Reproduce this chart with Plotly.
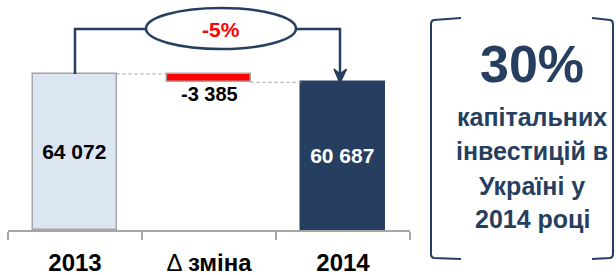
import plotly.graph_objects as go

# ---- data ----
categories = ["2013", "Δ зміна", "2014"]
tick_labels = ["<b>2013</b>", "Δ <b>зміна</b>", "<b>2014</b>"]
value_2013 = 64072
value_2014 = 60687
delta = value_2014 - value_2013
pct_change = round(delta / value_2013 * 100)
side_big = "30%"
side_lines = ["капітальних", "інвестицій в", "Україні у", "2014 році"]

def fmt(v):
    return f"{v:,}".replace(",", " ")

W, H = 616, 275
AX_Y = 230          # pixel y of x-axis line
X0, X1 = 8, 410     # pixel extent of category axis
YMAX = value_2013 * AX_Y / 156.0

def px(x):
    return x / W

def py(y):
    return (AX_Y - y) / AX_Y

def ydata(y):
    return (AX_Y - y) / AX_Y * YMAX

NAVY = "#263F60"
FONT = "Liberation Sans, Arial, sans-serif"
BW = 0.62

bar_y = [value_2013, -delta, value_2014]
bar_base = [0, value_2014, 0]

fig = go.Figure()
fig.add_trace(go.Bar(
    x=categories, y=bar_y, base=bar_base, width=BW,
    marker=dict(color=["#DCE6F2", "#FF0000", NAVY],
                line=dict(color=["#A6A6A6", "#A6A6A6", NAVY], width=1.5)),
    text=[f"<b>{fmt(value_2013)}</b>", "", f"<b>{fmt(value_2014)}</b>"],
    textposition="inside", insidetextanchor="middle", textangle=0,
    textfont=dict(family=FONT, size=21, color=["#000000", "#000000", "#FFFFFF"]),
    constraintext="none", hoverinfo="skip", showlegend=False,
))

shapes = []
# dotted connectors
shapes.append(dict(type="line", xref="x", yref="y", x0=0 + BW / 2, x1=1 - BW / 2,
                   y0=value_2013, y1=value_2013,
                   line=dict(color="#A0A0A0", width=1, dash="dot")))
shapes.append(dict(type="line", xref="x", yref="y", x0=1 + BW / 2, x1=2 - BW / 2,
                   y0=value_2014, y1=value_2014,
                   line=dict(color="#A0A0A0", width=1, dash="dot")))
# bridge arrow
lvl = ydata(29)
ell_l, ell_r = 146, 296
cat_w = (X1 - X0) / 3.0
def xd(pxx):
    return (pxx - X0) / cat_w - 0.5
shapes.append(dict(type="path", xref="x", yref="y",
                   path=f"M 0,{value_2013} L 0,{lvl} L {xd(ell_l)},{lvl}",
                   line=dict(color=NAVY, width=2.5)))
shapes.append(dict(type="path", xref="x", yref="y",
                   path=f"M {xd(ell_r)},{lvl} L {xd(340)},{lvl} L {xd(340)},{ydata(76)}",
                   line=dict(color=NAVY, width=2.5)))
# arrow head
shapes.append(dict(type="path", xref="paper", yref="paper",
                   path=(f"M {px(334)},{py(69)} L {px(340)},{py(83)} L {px(346.5)},{py(69)} "
                         f"L {px(340)},{py(74)} Z"),
                   fillcolor=NAVY, line=dict(color=NAVY, width=1.5)))
# ellipse
shapes.append(dict(type="circle", xref="paper", yref="paper",
                   x0=px(ell_l), x1=px(ell_r), y0=py(49), y1=py(8),
                   fillcolor="white", line=dict(color=NAVY, width=2.5)))
# brackets
shapes.append(dict(type="path", xref="paper", yref="paper",
                   path=(f"M {px(461)},{py(18)} L {px(434)},{py(20)} Q {px(431)},{py(20.5)} {px(431)},{py(24)} "
                         f"L {px(431)},{py(254)} Q {px(431)},{py(257.5)} {px(434)},{py(258)} L {px(461)},{py(259)}"),
                   line=dict(color=NAVY, width=2)))
shapes.append(dict(type="path", xref="paper", yref="paper",
                   path=(f"M {px(592)},{py(18)} L {px(610)},{py(20)} Q {px(613)},{py(20.5)} {px(613)},{py(24)} "
                         f"L {px(613)},{py(254)} Q {px(613)},{py(257.5)} {px(610)},{py(258)} L {px(592)},{py(259)}"),
                   line=dict(color=NAVY, width=2)))

annotations = []
annotations.append(dict(xref="x", yref="y", x=1, y=value_2014, yshift=1,
                        text=f"<b>{fmt(delta)}</b>", showarrow=False,
                        xanchor="center", yanchor="top",
                        font=dict(family=FONT, size=20, color="#000000")))
annotations.append(dict(xref="paper", yref="paper", x=px(220.5), y=py(29),
                        text=f"<b>{pct_change}%</b>", showarrow=False,
                        xanchor="center", yanchor="middle",
                        font=dict(family=FONT, size=21, color="#FF0000")))
annotations.append(dict(xref="paper", yref="paper", x=px(532), y=py(64),
                        text=f"<b>{side_big}</b>", showarrow=False,
                        xanchor="center", yanchor="middle",
                        font=dict(family=FONT, size=52, color=NAVY)))
line_y = [117, 151, 186, 219]
for t, yy in zip(side_lines, line_y):
    annotations.append(dict(xref="paper", yref="paper", x=px(532), y=py(yy),
                            text=f"<b>{t}</b>", showarrow=False,
                            xanchor="center", yanchor="middle",
                            font=dict(family=FONT, size=25, color=NAVY)))

fig.update_layout(
    width=W, height=H,
    margin=dict(l=0, r=0, t=0, b=H - AX_Y),
    paper_bgcolor="white", plot_bgcolor="white",
    font=dict(family=FONT),
    xaxis=dict(domain=[px(X0), px(X1)], type="category", range=[-0.5, 2.5],
               tickmode="array", tickvals=categories, ticktext=tick_labels,
               tickson="boundaries", ticks="outside", ticklen=8, tickwidth=1.5,
               tickcolor="#A6A6A6", showline=True, linecolor="#A6A6A6", linewidth=1.5,
               showgrid=False, zeroline=False, fixedrange=True, ticklabelstandoff=10,
               tickfont=dict(family=FONT, size=24, color="#000000")),
    yaxis=dict(range=[0, YMAX], visible=False, fixedrange=True),
    shapes=shapes, annotations=annotations,
    bargap=0,
)

fig.write_html("out.html", config={"displayModeBar": False},
               post_script="document.body.style.margin='0';")
